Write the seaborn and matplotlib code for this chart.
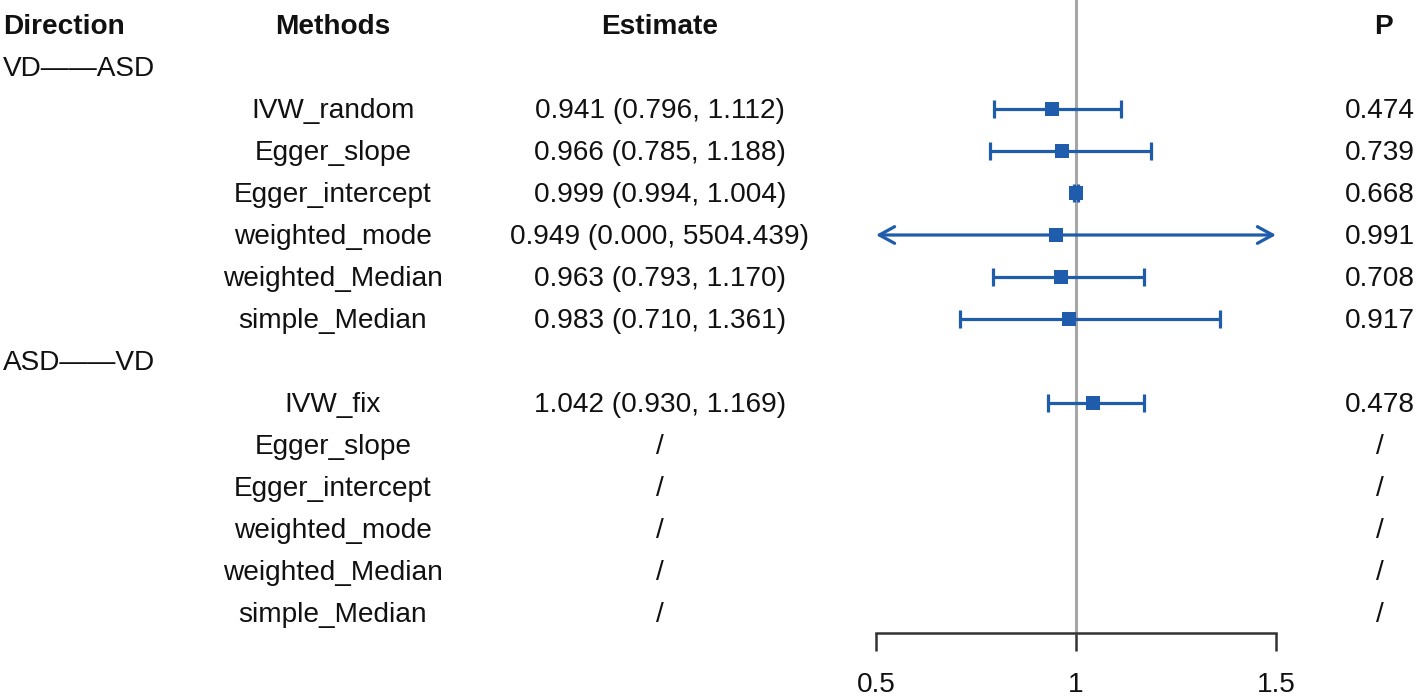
import numpy as np
import pandas as pd
import matplotlib
matplotlib.use("Agg")
import matplotlib.pyplot as plt
import matplotlib.transforms as mtransforms
import seaborn as sns

# ---------------- data ----------------
directions = ["VD\u2014\u2014ASD", "ASD\u2014\u2014VD"]
methods_vd_asd = ["IVW_random", "Egger_slope", "Egger_intercept",
                  "weighted_mode", "weighted_Median", "simple_Median"]
methods_asd_vd = ["IVW_fix", "Egger_slope", "Egger_intercept",
                  "weighted_mode", "weighted_Median", "simple_Median"]
est_vd_asd = [0.941, 0.966, 0.999, 0.949, 0.963, 0.983]
lo_vd_asd = [0.796, 0.785, 0.994, 0.000, 0.793, 0.710]
hi_vd_asd = [1.112, 1.188, 1.004, 5504.439, 1.170, 1.361]
p_vd_asd = ["0.474", "0.739", "0.668", "0.991", "0.708", "0.917"]
est_asd_vd = [1.042, np.nan, np.nan, np.nan, np.nan, np.nan]
lo_asd_vd = [0.930, np.nan, np.nan, np.nan, np.nan, np.nan]
hi_asd_vd = [1.169, np.nan, np.nan, np.nan, np.nan, np.nan]
p_asd_vd = ["0.478", "/", "/", "/", "/", "/"]
x_ticks = [0.5, 1, 1.5]
x_tick_labels = ["0.5", "1", "1.5"]

# ---------------- build table ----------------
rows = []
r = 1
for d, ms, es, ls, hs, ps in [
    (directions[0], methods_vd_asd, est_vd_asd, lo_vd_asd, hi_vd_asd, p_vd_asd),
    (directions[1], methods_asd_vd, est_asd_vd, lo_asd_vd, hi_asd_vd, p_asd_vd)]:
    rows.append(dict(row=r, kind="group", label=d))
    r += 1
    for m, e, l, h, p in zip(ms, es, ls, hs, ps):
        rows.append(dict(row=r, kind="method", label=m, est=e, lo=l, hi=h, p=p))
        r += 1
df = pd.DataFrame(rows)
meth = df[df.kind == "method"].copy()
pts = meth.dropna(subset=["est"]).copy()

# ---------------- figure ----------------
W, H = 1416, 699
sns.set_style("white")
plt.rcParams["font.family"] = ["Liberation Sans", "DejaVu Sans"]
fig = plt.figure(figsize=(W / 100, H / 100), dpi=100)

axis_y_px = 633
ax = fig.add_axes([876 / W, (H - axis_y_px) / H, 400 / W, axis_y_px / H])
xmin, xmax = 0.5, 1.5
ax.set_xlim(xmin, xmax)
row0_px, row_step = 25, 42
ax.set_ylim((axis_y_px - row0_px) / row_step, -row0_px / row_step)
ax.patch.set_alpha(0)

blue = "#1F5CAB"
fs = 20.2

# reference line
ax.axvline(1, color="#A6A6A6", lw=2.2, zorder=1, clip_on=False,
           ymin=0, ymax=1)

# error bars
for _, rr in pts.iterrows():
    lo_c = max(rr.lo, xmin)
    hi_c = min(rr.hi, xmax)
    if rr.lo < xmin or rr.hi > xmax:
        ax.annotate("", xy=(lo_c, rr.row), xytext=(hi_c, rr.row),
                    arrowprops=dict(arrowstyle="<->,head_length=1.1,head_width=0.6",
                                    color=blue, lw=2.3, shrinkA=0, shrinkB=0),
                    annotation_clip=False, zorder=2)
    else:
        ax.errorbar(rr.est, rr.row, xerr=[[rr.est - rr.lo], [rr.hi - rr.est]],
                    fmt="none", ecolor=blue, elinewidth=2.3, capsize=6.8,
                    capthick=2.3, zorder=2)

sns.scatterplot(data=pts, x="est", y="row", marker="s", s=115, color=blue,
                edgecolor=blue, linewidth=0, ax=ax, zorder=3, legend=False)

# axes styling
for side in ["top", "right", "left"]:
    ax.spines[side].set_visible(False)
ax.spines["bottom"].set_color("#333333")
ax.spines["bottom"].set_linewidth(1.8)
ax.set_xticks(x_ticks)
ax.set_xticklabels(x_tick_labels)
ax.tick_params(axis="x", bottom=True, direction="out", length=13, width=1.8,
               color="#333333", labelsize=fs, pad=15, labelcolor="#111111")
ax.set_yticks([])
ax.set_xlabel("")
ax.set_ylabel("")

# text columns
tr = mtransforms.blended_transform_factory(fig.transFigure, ax.transData)
dy = mtransforms.ScaledTranslation(0, -2 / 100, fig.dpi_scale_trans)
tr = tr + dy
col_dir = 3 / W
col_meth = 333 / W
col_est = 660 / W
col_p = 1380 / W
hdr_kw = dict(fontsize=fs, fontweight="bold", va="center", transform=tr,
              clip_on=False, color="#111111")
ax.text(col_dir, 0, "Direction", ha="left", **hdr_kw)
ax.text(col_meth, 0, "Methods", ha="center", **hdr_kw)
ax.text(col_est, 0, "Estimate", ha="center", **hdr_kw)
ax.text(1383 / W, 0, "P", ha="center", **hdr_kw)

txt_kw = dict(fontsize=fs, va="center", transform=tr, clip_on=False,
              color="#111111")
for _, rr in df[df.kind == "group"].iterrows():
    ax.text(col_dir, rr.row, rr.label, ha="left", **txt_kw)
for _, rr in meth.iterrows():
    ax.text(col_meth, rr.row, rr.label, ha="center", **txt_kw)
    if np.isnan(rr.est):
        s = "/"
    else:
        s = f"{rr.est:.3f} ({rr.lo:.3f}, {rr.hi:.3f})"
    ax.text(col_est, rr.row, s, ha="center", **txt_kw)
    ax.text(col_p, rr.row, rr.p, ha="center", **txt_kw)

fig.savefig("out.png", dpi=100, facecolor="white")
